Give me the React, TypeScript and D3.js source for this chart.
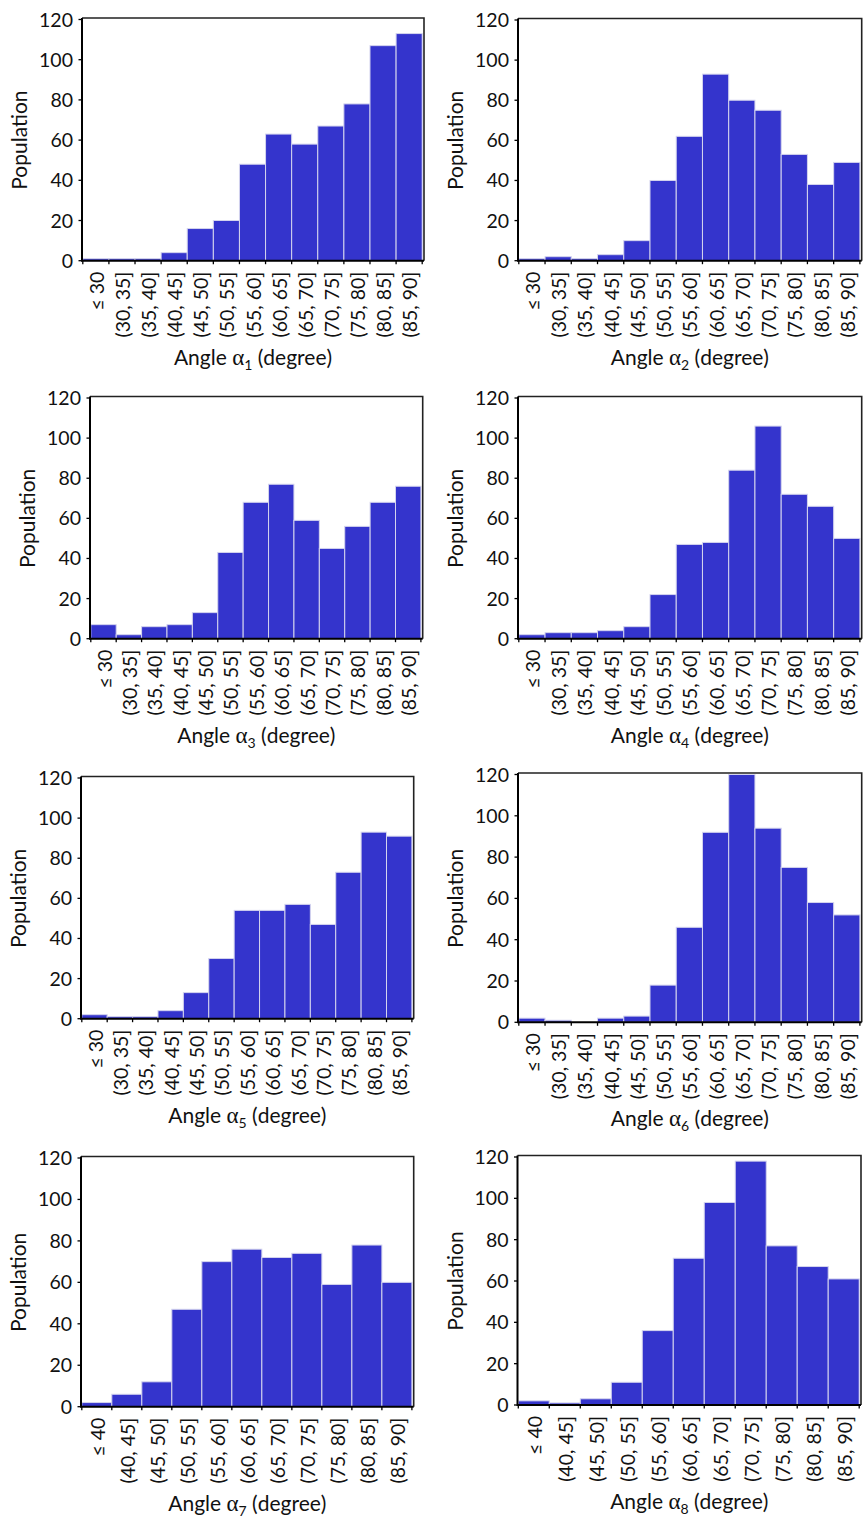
import React from "react";
import * as d3 from "d3";

// Bin labels for the angle histograms
const BINS_FROM_30 = [
  "≤ 30", "(30, 35]", "(35, 40]", "(40, 45]", "(45, 50]", "(50, 55]", "(55, 60]",
  "(60, 65]", "(65, 70]", "(70, 75]", "(75, 80]", "(80, 85]", "(85, 90]",
];
const BINS_FROM_40 = [
  "≤ 40", "(40, 45]", "(45, 50]", "(50, 55]", "(55, 60]", "(60, 65]",
  "(65, 70]", "(70, 75]", "(75, 80]", "(80, 85]", "(85, 90]",
];

// Population counts per bin, one array per angle
const alpha1 = [1, 1, 1, 4, 16, 20, 48, 63, 58, 67, 78, 107, 113];
const alpha2 = [1, 2, 1, 3, 10, 40, 62, 93, 80, 75, 53, 38, 49];
const alpha3 = [7, 2, 6, 7, 13, 43, 68, 77, 59, 45, 56, 68, 76];
const alpha4 = [2, 3, 3, 4, 6, 22, 47, 48, 84, 106, 72, 66, 50];
const alpha5 = [2, 1, 1, 4, 13, 30, 54, 54, 57, 47, 73, 93, 91];
const alpha6 = [2, 1, 0, 2, 3, 18, 46, 92, 120, 94, 75, 58, 52];
const alpha7 = [2, 6, 12, 47, 70, 76, 72, 74, 59, 78, 60];
const alpha8 = [2, 1, 3, 11, 36, 71, 98, 118, 77, 67, 61];

const Y_TICKS = [0, 20, 40, 60, 80, 100, 120];
const Y_MAX = 120;

const BAR_FILL = "#3434cc";
const BAR_EDGE = "#d4d4ee";
const FONT = "Lato, 'Open Sans', sans-serif";
const TICK_SIZE = 19.5;
const TITLE_SIZE = 21;

type Panel = {
  index: number;
  bins: string[];
  values: number[];
  left: number;
  right: number;
  top: number;
  bottom: number;
};

// Plot-area geometry of each panel in the 2 x 4 grid
const panels: Panel[] = [
  { index: 1, bins: BINS_FROM_30, values: alpha1, left: 82, right: 424, top: 19.5, bottom: 260.7 },
  { index: 2, bins: BINS_FROM_30, values: alpha2, left: 518, right: 861.7, top: 20, bottom: 260.7 },
  { index: 3, bins: BINS_FROM_30, values: alpha3, left: 90, right: 422.7, top: 398, bottom: 638.7 },
  { index: 4, bins: BINS_FROM_30, values: alpha4, left: 518, right: 861.7, top: 398, bottom: 638.7 },
  { index: 5, bins: BINS_FROM_30, values: alpha5, left: 81, right: 413.7, top: 778, bottom: 1018.7 },
  { index: 6, bins: BINS_FROM_30, values: alpha6, left: 518, right: 861.7, top: 774.5, bottom: 1022.3 },
  { index: 7, bins: BINS_FROM_40, values: alpha7, left: 81, right: 413.7, top: 1158, bottom: 1406.7 },
  { index: 8, bins: BINS_FROM_40, values: alpha8, left: 517.5, right: 861, top: 1157, bottom: 1405 },
];

function Histogram({ p }: { p: Panel }) {
  const x = d3
    .scaleBand<string>()
    .domain(p.bins)
    .range([p.left + 0.8, p.right - 1.8])
    .padding(0);
  const y = d3.scaleLinear().domain([0, Y_MAX]).range([p.bottom, p.top]);
  const edges = p.bins
    .map((b) => x(b) as number)
    .concat([(x(p.bins[p.bins.length - 1]) as number) + x.bandwidth()]);
  const cx = (p.left + p.right) / 2;
  const cy = (p.top + p.bottom) / 2;

  return (
    <g>
      {/* bars */}
      {p.values.map((v, i) => (
        <rect
          key={i}
          x={x(p.bins[i])}
          y={y(v)}
          width={x.bandwidth()}
          height={Math.max(0, p.bottom - y(v))}
          fill={BAR_FILL}
          stroke={BAR_EDGE}
          strokeWidth={1}
        />
      ))}
      {/* frame: top and right */}
      <path
        d={`M${p.left},${p.top - 1.5}H${p.right}V${p.bottom}`}
        fill="none"
        stroke="#222"
        strokeWidth={1.6}
      />
      {/* left and bottom axis lines */}
      <path
        d={`M${p.left},${p.top - 1.5}V${p.bottom}H${p.right}`}
        fill="none"
        stroke="#000"
        strokeWidth={2}
      />
      {/* y ticks */}
      {Y_TICKS.map((t) => (
        <g key={t}>
          <line x1={p.left - 3.5} x2={p.left} y1={y(t)} y2={y(t)} stroke="#000" strokeWidth={1.3} />
          <text
            x={p.left - 9}
            y={y(t)}
            dy="0.36em"
            textAnchor="end"
            fontFamily={FONT}
            fontSize={TICK_SIZE}
            fill="#111"
          >
            {t}
          </text>
        </g>
      ))}
      {/* x ticks at bin edges */}
      {edges.map((e, i) => (
        <line key={i} x1={e} x2={e} y1={p.bottom} y2={p.bottom + 3.5} stroke="#000" strokeWidth={1.3} />
      ))}
      {/* rotated bin labels */}
      {p.bins.map((b) => (
        <text
          key={b}
          transform={`translate(${(x(b) as number) + x.bandwidth() / 2 + 1},${p.bottom + 11}) rotate(-90)`}
          dy="0.36em"
          textAnchor="end"
          fontFamily={FONT}
          fontSize={TICK_SIZE}
          fill="#111"
        >
          {b}
        </text>
      ))}
      {/* y title */}
      <text
        transform={`translate(${p.left - 62.5},${cy}) rotate(-90)`}
        dy="0.36em"
        textAnchor="middle"
        fontFamily={FONT}
        fontSize={TITLE_SIZE}
        fill="#111"
      >
        Population
      </text>
      {/* x title */}
      <text
        x={cx}
        y={p.bottom + 96.5}
        dy="0.36em"
        textAnchor="middle"
        fontFamily={FONT}
        fontSize={TITLE_SIZE}
        fill="#111"
      >
        Angle{" "}
        <tspan fontFamily="'Liberation Serif', serif" fontSize={23}>
          α
        </tspan>
        <tspan fontSize={14} dy={5}>
          {p.index}
        </tspan>
        <tspan dy={-5}> (degree)</tspan>
      </text>
    </g>
  );
}

export default function App() {
  return (
    <svg
      width={867}
      height={1521}
      style={{ position: "absolute", left: 0, top: 0, background: "#fff" }}
    >
      <rect width={867} height={1521} fill="#fff" />
      {panels.map((p) => (
        <Histogram key={p.index} p={p} />
      ))}
    </svg>
  );
}
